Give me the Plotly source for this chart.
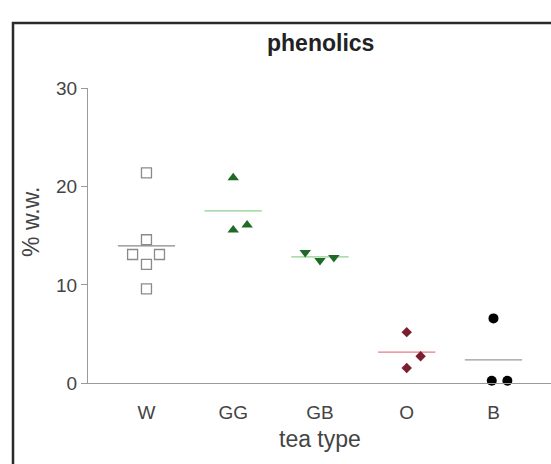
import numpy as np
import plotly.graph_objects as go

W, H = 551, 464

categories = ["W", "GG", "GB", "O", "B"]
values_W = [21.4, 14.6, 13.1, 13.1, 12.1, 9.6]
values_GG = [20.9, 15.6, 16.1]
values_GB = [13.3, 12.5, 12.8]
values_O = [5.2, 2.75, 1.55]
values_B = [6.6, 0.26, 0.26]
# horizontal scatter (jitter) offsets, in category units
jitter_W = [0.0, 0.0, -0.16, 0.15, 0.0, 0.0]
jitter_GG = [0.0, 0.0, 0.16]
jitter_GB = [-0.17, 0.0, 0.16]
jitter_O = [0.0, 0.16, 0.0]
jitter_B = [0.0, -0.02, 0.16]
yticks = [0, 10, 20, 30]

series = [
    (values_W, jitter_W, dict(symbol="square-open", size=10, color="#8a8a8a", line=dict(width=1.3, color="#8a8a8a")), "#8a8a8a"),
    (values_GG, jitter_GG, dict(symbol="triangle-up", size=10, color="#1f6a26"), "#8fd08f"),
    (values_GB, jitter_GB, dict(symbol="triangle-down", size=10, color="#1f6a26"), "#8fd08f"),
    (values_O, jitter_O, dict(symbol="diamond", size=8, color="#7a1f2e"), "#e57c88"),
    (values_B, jitter_B, dict(symbol="circle", size=10, color="#000000"), "#9a9a9a"),
]

fig = go.Figure()
half = 0.33
for i, (vals, jit, mk, lc) in enumerate(series):
    m = float(np.mean(vals))
    fig.add_trace(go.Scatter(x=[i - half, i + half], y=[m, m], mode="lines",
                             line=dict(color=lc, width=1.2), hoverinfo="skip",
                             showlegend=False, cliponaxis=False))
    fig.add_trace(go.Scatter(x=[i + j for j in jit], y=vals, mode="markers",
                             marker=mk, showlegend=False, cliponaxis=False))

font_fam = "Liberation Sans, Arial, sans-serif"

def px_x(p):
    return p / W

def px_y(p):
    return 1 - p / H

fig.update_layout(
    width=W, height=H,
    margin=dict(l=0, r=0, t=0, b=0),
    paper_bgcolor="white", plot_bgcolor="white",
    font=dict(family=font_fam, color="#444444"),
    xaxis=dict(
        domain=[px_x(88), 1.0],
        range=[-0.674, 4.663],
        tickmode="array", tickvals=list(range(len(categories))), ticktext=categories,
        ticks="", showgrid=False, zeroline=False,
        showline=True, linecolor="#9a9a9a", linewidth=1,
        tickfont=dict(size=19, color="#444444"),
        ticklabelstandoff=12,
        fixedrange=True,
    ),
    yaxis=dict(
        domain=[px_y(391), px_y(82)],
        range=[0, 30],
        tickmode="array", tickvals=yticks, ticktext=[str(t) for t in yticks],
        ticks="outside", ticklen=6, tickcolor="#9a9a9a", tickwidth=1,
        showgrid=False, zeroline=False,
        showline=True, linecolor="#9a9a9a", linewidth=1,
        tickfont=dict(size=19, color="#444444"),
        fixedrange=True,
    ),
    shapes=[dict(type="rect", xref="paper", yref="paper",
                 x0=px_x(13), x1=px_x(570), y0=px_y(480), y1=px_y(13.5),
                 line=dict(color="#2a2a2a", width=2.5))],
    annotations=[
        dict(text="<b>phenolics</b>", xref="paper", yref="paper",
             x=px_x(320), y=px_y(35), xanchor="center", yanchor="middle", showarrow=False,
             font=dict(size=23, color="#222222", family=font_fam)),
        dict(text="% w.w.", xref="paper", yref="paper",
             x=px_x(31), y=px_y(222), xanchor="center", yanchor="middle",
             textangle=-90, showarrow=False,
             font=dict(size=23, color="#444444", family=font_fam)),
        dict(text="tea type", xref="paper", yref="paper",
             x=px_x(320), y=px_y(449), xanchor="center", yanchor="middle", showarrow=False,
             font=dict(size=23, color="#444444", family=font_fam)),
    ],
)

fig.write_html("out.html")
